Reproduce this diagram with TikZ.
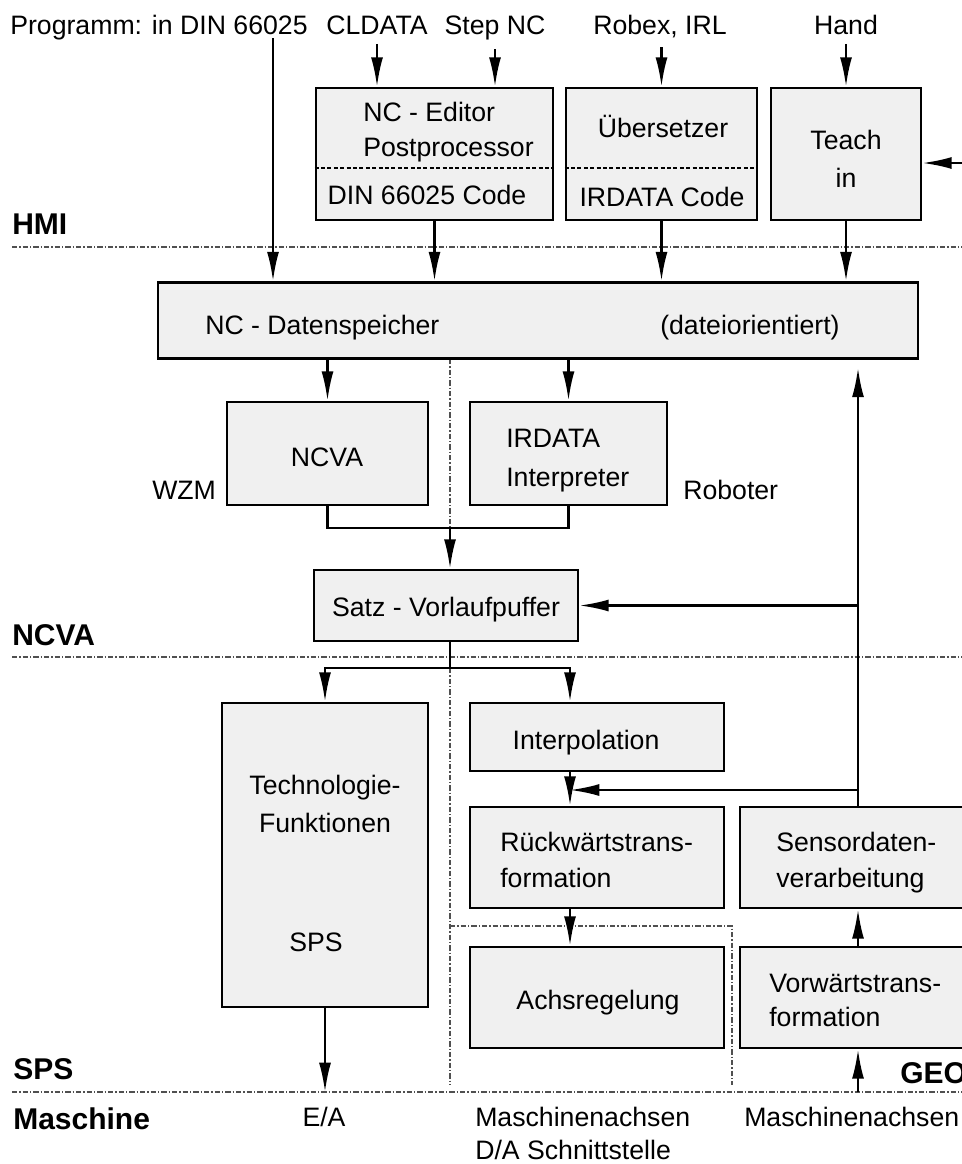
\documentclass[tikz,border=0pt]{standalone}
\usepackage{fontspec}
\setmainfont{Liberation Sans}
\usetikzlibrary{arrows.meta}
\definecolor{boxgray}{HTML}{F0F0F0}
\definecolor{sepgray}{HTML}{505050}
\begin{document}
\begin{tikzpicture}[x=0.75pt,y=-0.75pt,
  box/.style={draw, line width=2.1pt, fill=boxgray, inner sep=0pt},
  wh/.style 2 args={minimum width=#1*0.75pt, minimum height=#2*0.75pt},
  txt/.style={font=\fontsize{20}{24}\selectfont, inner sep=0pt, anchor=base},
  txtl/.style={txt, anchor=base west},
  lvl/.style={font=\fontsize{22.5}{27}\selectfont\bfseries, inner sep=0pt, anchor=base west},
  conn/.style={line width=1.7pt},
  arr/.style={conn, -{Latex[length=22pt,width=9pt]}},
  sep/.style={draw=sepgray, line width=0.8pt, dash pattern=on 4pt off 1.5pt on 1pt off 1.5pt},
  divider/.style={line width=1.6pt, dash pattern=on 3pt off 1.8pt},
]
\useasboundingbox (0,0) rectangle (962,1164);
\clip (0,0) rectangle (962,1164);

% level separators and grouping lines
\draw[sep] (12,247) -- (962,247);
\draw[sep] (12,657) -- (962,657);
\draw[sep] (12,1092) -- (962,1092);
\draw[sep] (450,359) -- (450,528);
\draw[sep] (450,668) -- (450,1085);
\draw[sep] (450,926) -- (732,926) -- (732,1085);

% level names
\node[lvl] (lHMI) at (12,234) {HMI};
\node[lvl] (lNCVA) at (12,645) {NCVA};
\node[lvl] (lSPS) at (13,1079) {SPS};
\node[lvl] (lMasch) at (13,1129) {Maschine};
\node[lvl] (lGEO) at (900,1083) {GEO};

% program sources
\node[txtl] (prog) at (10,34) {Programm: in DIN 66025};
\node[txt] (cl) at (377,34) {CLDATA};
\node[txt] (step) at (495,34) {Step NC};
\node[txt] (robex) at (660,34) {Robex, IRL};
\node[txt] (hand) at (846,34) {Hand};

% HMI boxes
\node[box, wh={237}{132}] (edit) at (434.5,154) {};
\node[box, wh={191}{132}] (uebers) at (661.5,154) {};
\node[box, wh={150}{132}] (teach) at (846,154) {};
\draw[divider] (edit.west |- 0,168) -- (edit.east |- 0,168);
\draw[divider] (uebers.west |- 0,168) -- (uebers.east |- 0,168);
\node[txtl] (ted1) at (363,121) {NC - Editor};
\node[txtl] (ted2) at (363,156) {Postprocessor};
\node[txt] (tdin) at (427,204) {DIN 66025 Code};
\node[txt] (tueb) at (663,137) {Übersetzer};
\node[txt] (tird) at (662,206) {IRDATA Code};
\node[txt] (tteach) at (846,149) {Teach};
\node[txt] (tin) at (846,187) {in};

% data store
\node[box, wh={760}{76}] (data) at (538,320.5) {};
\node[txtl] (tdata) at (205,334) {NC - Datenspeicher};
\node[txtl] (tdatei) at (660,334) {(dateiorientiert)};

% NCVA level
\node[box, wh={201}{103}] (ncva) at (327.5,453.5) {};
\node[box, wh={197}{103}] (irdata) at (568.5,453.5) {};
\node[txt] (tncva) at (327,466) {NCVA};
\node[txtl] (tir1) at (506,447) {IRDATA};
\node[txtl] (tir2) at (506,486) {Interpreter};
\node[txtl] (twzm) at (152,499) {WZM};
\node[txtl] (trob) at (683,499) {Roboter};
\node[box, wh={264}{71}] (satz) at (446,605.5) {};
\node[txt] (tsatz) at (446,616) {Satz - Vorlaufpuffer};

% SPS level
\node[box, wh={206}{304}] (techno) at (325,855) {};
\node[txt] (ttech1) at (325,794) {Technologie-};
\node[txt] (ttech2) at (325,832) {Funktionen};
\node[txt] (tsps) at (316,951) {SPS};
\node[box, wh={254}{68}] (interp) at (597,737) {};
\node[txt] (tinterp) at (586,749) {Interpolation};
\node[box, wh={254}{101}] (rueck) at (597,857.5) {};
\node[txtl] (tr1) at (500,851) {Rückwärtstrans-};
\node[txtl] (tr2) at (500,887) {formation};
\node[box, wh={250}{101}] (sensor) at (865,857.5) {};
\node[txtl] (ts1) at (776,851) {Sensordaten-};
\node[txtl] (ts2) at (776,887) {verarbeitung};
\node[box, wh={254}{101}] (achs) at (597,997.5) {};
\node[txt] (tachs) at (598,1009) {Achsregelung};
\node[box, wh={250}{101}] (vorw) at (865,997.5) {};
\node[txtl] (tv1) at (769,992) {Vorwärtstrans-};
\node[txtl] (tv2) at (769,1026) {formation};

% machine interface
\node[txt] (tea) at (324,1126) {E/A};
\node[txtl] (tma1) at (475,1126) {Maschinenachsen};
\node[txtl] (tda) at (475,1159) {D/A Schnittstelle};
\node[txtl] (tma2) at (744,1126) {Maschinenachsen};

% helper points
\coordinate (progdrop) at (273,38);
\coordinate (teachin) at (980,163);
\coordinate (merge) at (450,528);
\coordinate (split) at (450,668);
\coordinate (colR) at (570,0);
\coordinate (fb) at (858,0);
\coordinate (tap) at (858,790);
\coordinate (mline) at (0,1092);

% inputs into HMI
\draw[arr] (progdrop) -- (progdrop |- data.north);
\draw[arr, shorten <=7pt] (cl.south) -- (cl.south |- edit.north);
\draw[arr, shorten <=7pt] (step.south) -- (step.south |- edit.north);
\draw[arr, shorten <=7pt] (robex.south -| uebers.north) -- (uebers.north);
\draw[arr, shorten <=7pt] (hand.south) -- (teach.north);
\draw[arr] (teachin) -- (teachin -| teach.east);

% HMI to data store
\draw[arr] (edit.south) -- (edit.south |- data.north);
\draw[arr] (uebers.south) -- (uebers.south |- data.north);
\draw[arr] (teach.south) -- (teach.south |- data.north);

% data store to interpreters
\draw[arr] (data.south -| ncva.north) -- (ncva.north);
\draw[arr] (data.south -| irdata.north) -- (irdata.north);
\draw[conn] (ncva.south) -- (ncva.south |- merge) -| (irdata.south);
\draw[arr] (merge) -- (merge |- satz.north);

% block buffer to SPS level
\draw[conn] (split |- satz.south) -- (split);
\draw[arr] (split) -| (techno.north);
\draw[arr] (split) -| (colR |- interp.north);
\draw[arr] (colR |- interp.south) -- (colR |- rueck.north);
\draw[arr] (colR |- rueck.south) -- (colR |- achs.north);
\draw[arr] (techno.south) -- (techno.south |- mline);

% sensor feedback
\draw[arr, shorten >=6pt] (fb |- sensor.north) -- (fb |- data.south);
\draw[arr] (satz.east -| fb) -- (satz.east);
\draw[arr] (tap) -- (tap -| colR);
\draw[arr] (fb |- vorw.north) -- (fb |- sensor.south);
\draw[arr] (fb |- mline) -- (fb |- vorw.south);
\end{tikzpicture}
\end{document}
